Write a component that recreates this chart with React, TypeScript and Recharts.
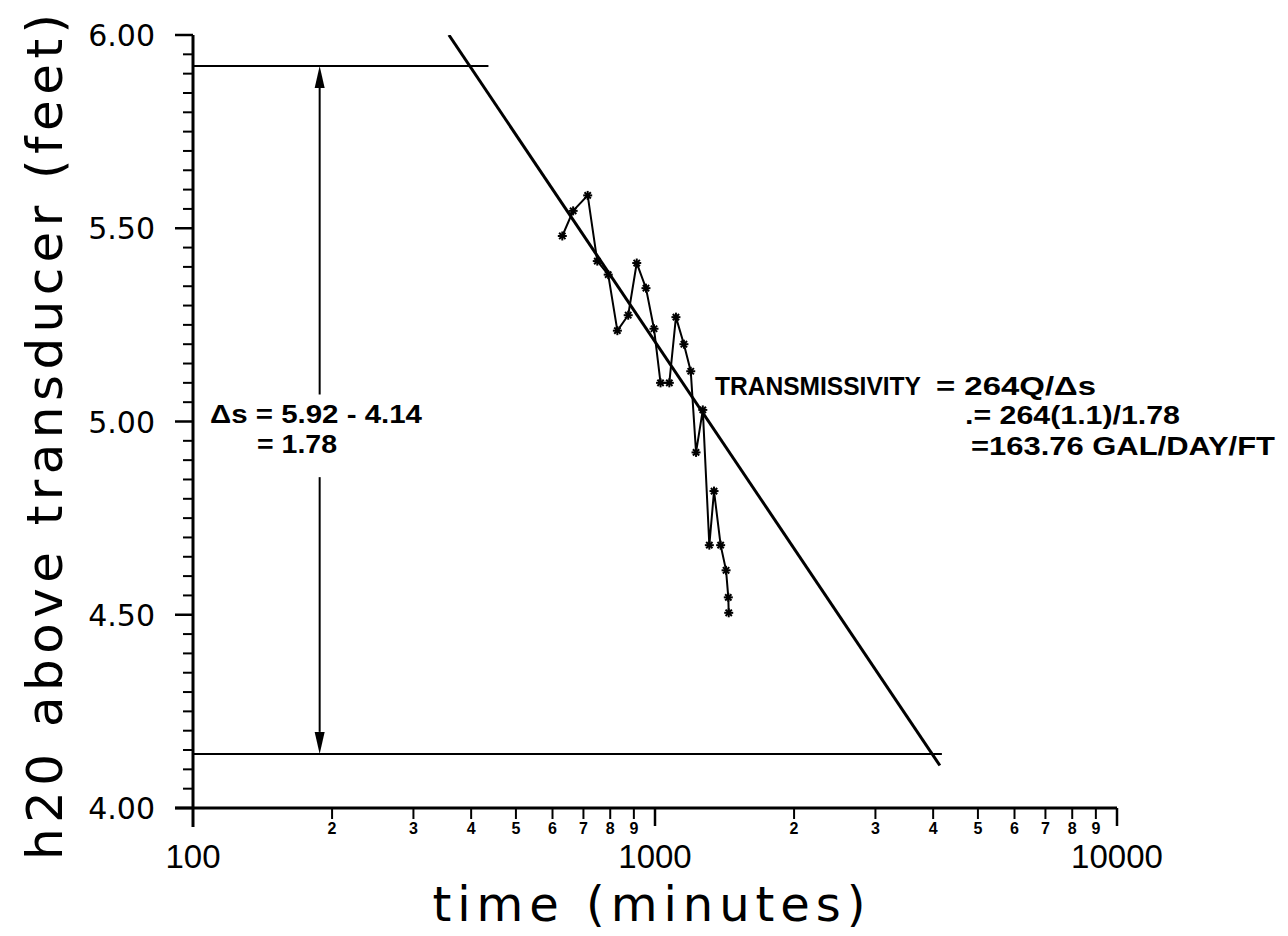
import React from 'react';
import { ComposedChart, Line, XAxis, YAxis, ReferenceLine } from 'recharts';

// pumping test readings (time in minutes, head in feet)
const timeMinutes = [630, 665, 715, 750, 792, 829, 875, 913, 956, 995, 1028, 1074, 1110, 1155, 1195, 1227, 1269, 1311, 1342, 1387, 1425, 1441, 1444];
const headFeet = [5.48, 5.545, 5.585, 5.415, 5.38, 5.235, 5.275, 5.41, 5.345, 5.24, 5.1, 5.1, 5.27, 5.2, 5.13, 4.92, 5.03, 4.68, 4.82, 4.68, 4.615, 4.545, 4.505];

// straight-line fit drawn through the data
const fitTime = [358, 4136];
const fitHead = [6.0, 4.11];

// construction lines for the delta-s reading
const upperLevel = 5.92;
const lowerLevel = 4.14;
const upperLevelEnd = 436;
const lowerLevelEnd = 4178;
const arrowTime = 188;
const arrowGapTop = 5.07;
const arrowGapBottom = 4.856;

const xTicks = [100, 200, 300, 400, 500, 600, 700, 800, 900, 1000, 2000, 3000, 4000, 5000, 6000, 7000, 8000, 9000, 10000];
const xMajorTicks = [100, 1000, 10000];
const yTicks = [
  4.0, 4.05, 4.1, 4.15, 4.2, 4.25, 4.3, 4.35, 4.4, 4.45,
  4.5, 4.55, 4.6, 4.65, 4.7, 4.75, 4.8, 4.85, 4.9, 4.95,
  5.0, 5.05, 5.1, 5.15, 5.2, 5.25, 5.3, 5.35, 5.4, 5.45,
  5.5, 5.55, 5.6, 5.65, 5.7, 5.75, 5.8, 5.85, 5.9, 5.95, 6.0,
];
const yMajorTicks = [4.0, 4.5, 5.0, 5.5, 6.0];

const readings = timeMinutes.map((t, i) => ({ t, h: headFeet[i] }));
const fitRows = fitTime.map((t, i) => ({ t, h: fitHead[i] }));

const INK = '#000';
const tickFont = "'Liberation Sans', Arial, sans-serif";
const yTickFont = "'DejaVu Sans', sans-serif";
const titleFont = "'DejaVu Sans', sans-serif";
const noteFont = "'Liberation Sans', Arial, sans-serif";

const XTick = (props: any) => {
  const { x, y, payload } = props;
  const v = payload.value;
  const isMajor = xMajorTicks.includes(v);
  if (v === 100) {
    return (
      <g>
        <line x1={x} y1={y} x2={x} y2={y + 19} stroke={INK} strokeWidth={3} />
        <line x1={x - 18} y1={y} x2={x} y2={y} stroke={INK} strokeWidth={3} />
        <text x={x} y={y + 60} textAnchor="middle" fontFamily={tickFont} fontSize={33} fill={INK}>100</text>
      </g>
    );
  }
  if (isMajor) {
    return (
      <g>
        <line x1={x} y1={y} x2={x} y2={y + 18} stroke={INK} strokeWidth={2.5} />
        <text x={x} y={y + 60} textAnchor="middle" fontFamily={tickFont} fontSize={33} fill={INK}>{String(v)}</text>
      </g>
    );
  }
  const digit = String(v).charAt(0);
  return (
    <g>
      <line x1={x} y1={y} x2={x} y2={y + 11} stroke={INK} strokeWidth={2} />
      <text x={x} y={y + 26} textAnchor="middle" fontFamily="'Liberation Sans Narrow', 'Liberation Sans', sans-serif" fontWeight="bold" fontSize={16} fill={INK}>{digit}</text>
    </g>
  );
};

const YTick = (props: any) => {
  const { x, y, payload } = props;
  const v = payload.value;
  const isMajor = yMajorTicks.some((m) => Math.abs(m - v) < 1e-6);
  if (!isMajor) {
    return <line x1={x - 10} y1={y} x2={x} y2={y} stroke={INK} strokeWidth={2} />;
  }
  return (
    <g>
      <line x1={x - 18} y1={y} x2={x} y2={y} stroke={INK} strokeWidth={2.5} />
      <text x={x - 38} y={y + 11} textAnchor="end" fontFamily={yTickFont} fontSize={30} fill={INK}>{v.toFixed(2)}</text>
    </g>
  );
};

const Asterisk = (props: any) => {
  const { cx, cy } = props;
  if (cx == null || cy == null) return null;
  const r = 4.5;
  const d = r * 0.7;
  return (
    <g>
      <line x1={cx - r} y1={cy} x2={cx + r} y2={cy} stroke={INK} strokeWidth={2} />
      <line x1={cx} y1={cy - r} x2={cx} y2={cy + r} stroke={INK} strokeWidth={2} />
      <line x1={cx - d} y1={cy - d} x2={cx + d} y2={cy + d} stroke={INK} strokeWidth={2} />
      <line x1={cx - d} y1={cy + d} x2={cx + d} y2={cy - d} stroke={INK} strokeWidth={2} />
      <circle cx={cx} cy={cy} r={2.2} fill={INK} />
    </g>
  );
};

// line segment with a filled arrow head at its second end
const ArrowSegment = (props: any) => {
  const { x1, y1, x2, y2 } = props;
  const dx = x2 - x1;
  const dy = y2 - y1;
  const len = Math.sqrt(dx * dx + dy * dy) || 1;
  const ux = dx / len;
  const uy = dy / len;
  const head = 22;
  const half = 5;
  const bx = x2 - ux * head;
  const by = y2 - uy * head;
  const pts = `${x2},${y2} ${bx - uy * half},${by + ux * half} ${bx + uy * half},${by - ux * half}`;
  return (
    <g>
      <line x1={x1} y1={y1} x2={bx} y2={by} stroke={INK} strokeWidth={2} />
      <polygon points={pts} fill={INK} />
    </g>
  );
};

export default function App() {
  return (
    <div style={{ width: 1280, height: 928, background: '#fff' }}>
      <ComposedChart width={1280} height={928} margin={{ top: 27, right: 171, bottom: 8, left: 0 }}>
        <XAxis
          dataKey="t"
          type="number"
          scale="log"
          domain={[100, 10000]}
          ticks={xTicks}
          interval={0}
          allowDataOverflow
          height={120}
          tickSize={0}
          tickMargin={0}
          tickLine={false}
          axisLine={{ stroke: INK, strokeWidth: 3 }}
          tick={<XTick />}
        />
        <YAxis
          dataKey="h"
          type="number"
          domain={[4, 6]}
          ticks={yTicks}
          interval={0}
          allowDataOverflow
          width={185}
          tickSize={0}
          tickMargin={0}
          tickLine={false}
          axisLine={{ stroke: INK, strokeWidth: 3 }}
          tick={<YTick />}
        />

        <ReferenceLine segment={[{ x: 100, y: upperLevel }, { x: upperLevelEnd, y: upperLevel }]} stroke={INK} strokeWidth={2} />
        <ReferenceLine segment={[{ x: 100, y: lowerLevel }, { x: lowerLevelEnd, y: lowerLevel }]} stroke={INK} strokeWidth={2} />
        <ReferenceLine segment={[{ x: arrowTime, y: arrowGapTop }, { x: arrowTime, y: upperLevel }]} shape={<ArrowSegment />} />
        <ReferenceLine segment={[{ x: arrowTime, y: arrowGapBottom }, { x: arrowTime, y: lowerLevel }]} shape={<ArrowSegment />} />

        <Line data={fitRows} dataKey="h" type="linear" stroke={INK} strokeWidth={3} dot={false} isAnimationActive={false} />
        <Line
          data={readings}
          dataKey="h"
          type="linear"
          stroke={INK}
          strokeWidth={2}
          dot={(p: any) => <Asterisk key={`pt-${p.index}`} {...p} />}
          isAnimationActive={false}
        />

        <text
          x={54}
          y={429}
          transform="rotate(-90 54 429)"
          textAnchor="middle"
          fontFamily={titleFont}
          fontSize={50}
          fill={INK}
          textLength={846}
          lengthAdjust="spacing"
        >
          h20  above  transducer  (feet)
        </text>
        <text
          x={641}
          y={913}
          textAnchor="middle"
          fontFamily={titleFont}
          fontSize={48}
          fill={INK}
          textLength={433}
          lengthAdjust="spacing"
        >
          time  (minutes)
        </text>

        <text x={202} y={415} fontFamily={noteFont} fontWeight="bold" fontSize={25} fill={INK} textLength={212} lengthAdjust="spacingAndGlyphs">Δs = 5.92 - 4.14</text>
        <text x={249} y={445} fontFamily={noteFont} fontWeight="bold" fontSize={25} fill={INK} textLength={80} lengthAdjust="spacingAndGlyphs">= 1.78</text>

        <text x={707} y={387} fontFamily={noteFont} fontWeight="bold" fontSize={25} fill={INK} textLength={206} lengthAdjust="spacingAndGlyphs">TRANSMISSIVITY</text>
        <text x={928} y={387} fontFamily={noteFont} fontWeight="bold" fontSize={25} fill={INK} textLength={160} lengthAdjust="spacingAndGlyphs">= 264Q/Δs</text>
        <text x={957} y={416} fontFamily={noteFont} fontWeight="bold" fontSize={25} fill={INK} textLength={215} lengthAdjust="spacingAndGlyphs">.= 264(1.1)/1.78</text>
        <text x={963} y={447} fontFamily={noteFont} fontWeight="bold" fontSize={25} fill={INK} textLength={304} lengthAdjust="spacingAndGlyphs">=163.76 GAL/DAY/FT</text>
      </ComposedChart>
    </div>
  );
}
